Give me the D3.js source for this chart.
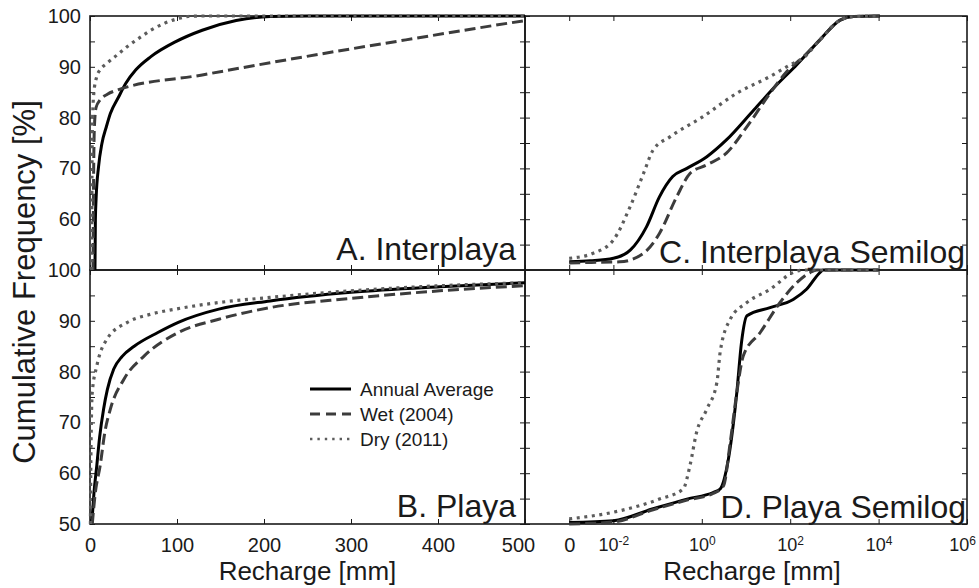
<!DOCTYPE html>
<html>
<head>
<meta charset="utf-8">
<script src="https://cdn.jsdelivr.net/npm/d3@7"></script>
<style>
  html, body { margin: 0; padding: 0; background: #fff; }
  svg { display: block; }
  text { font-family: "Liberation Sans", Arial, Helvetica, sans-serif; fill: #1a1a1a; }
</style>
</head>
<body>
<svg id="chart" width="979" height="588"></svg>
<script>
// ---- Cumulative frequency of recharge, [recharge mm, cumulative %] ----
// Interplaya, linear axis
const interplayaAnnual = [[5.7,50],[6.2,60],[7,64],[9.8,70.3],[13.7,74.9],[18.8,78.2],[23.4,80.8],[33,84.1],[41,86.7],[52.7,89.4],[70,92],[98,94.9],[129,97.2],[168,99.1],[207,99.9],[250,100],[500,100]];
const interplayaWet    = [[3.5,50],[4,65],[5,78],[7,82],[11.7,83.5],[20,84.6],[31,85.4],[129,88.4],[207,90.8],[285,93.1],[363,95.3],[441,97.5],[500,99.1]];
const interplayaDry    = [[2,50],[2.3,70],[3,80],[4.5,85],[7.8,88.1],[11.7,89.4],[19.5,90.7],[31,92.3],[43,94],[58.6,95.9],[70,97.2],[86,98.6],[101.5,99.5],[113,99.9],[130,100],[500,100]];
// Playa, linear axis
const playaAnnual = [[2,50],[4.5,56],[7.8,61.5],[11,67],[15.6,72.6],[20,76.5],[27.3,80.5],[37,83],[50.8,85],[78,87.7],[101.5,89.7],[148,92.3],[207,93.9],[300,95.6],[402,96.7],[500,97.5]];
const playaWet    = [[2.6,50],[6,56],[11.7,61.5],[17,68],[23.4,72.6],[39,78.5],[62.4,83.1],[101.5,87.7],[148,90.3],[207,92.6],[300,94.4],[402,95.9],[500,96.9]];
const playaDry    = [[0.5,50],[1,62.8],[2.6,75.9],[7.8,81.1],[19.5,86.4],[43,89.7],[70,91.3],[101.5,92.4],[148,93.6],[207,94.6],[300,95.9],[402,96.9],[500,97.5]];
// Interplaya, semilog axis (0 mm is drawn at the "0" tick)
const interplayaLogAnnual = [[0,51.6],[0.003,51.8],[0.01,52.3],[0.024,53.9],[0.056,58.5],[0.11,64.4],[0.22,68.4],[0.46,70.0],[1.3,72.3],[3.6,75.6],[15,81.5],[49,86.4],[141,90.4],[470,95.3],[1350,99.2],[2700,99.9],[10700,100]];
const interplayaLogWet    = [[0,51.4],[0.0032,51.5],[0.014,51.6],[0.048,53.3],[0.11,57.2],[0.27,64.4],[0.54,69.0],[1.3,70.7],[3.6,73.0],[10.5,78.2],[35,84.8],[83,89.0],[200,92.0],[470,95.3],[1350,99.2],[2700,99.9],[10700,100]];
const interplayaLogDry    = [[0,52.3],[0.0035,53.3],[0.01,55.9],[0.024,62.5],[0.048,69.0],[0.079,73.6],[0.19,76.2],[1.07,80.2],[6.2,84.8],[35,88.1],[100,90.4],[200,91.8],[470,95.3],[1350,99.2],[2700,99.9],[10700,100]];
// Playa, semilog axis
const playaLogAnnual = [[0,50.3],[0.01,50.65],[0.079,53.0],[0.46,54.9],[1.8,56.2],[2.6,56.9],[4.0,62.8],[6.2,75.9],[7.9,85.7],[10.5,91.0],[35,92.6],[117,94.2],[234,96.2],[470,99.5],[560,100],[10000,100]];
const playaLogWet    = [[0,50.0],[0.01,50.4],[0.079,52.8],[0.46,54.7],[1.8,56.0],[3.1,57.5],[4.4,66.1],[6.2,75.9],[8.7,83.1],[21,87.7],[59,93.6],[141,97.5],[282,99.5],[400,100],[10000,100]];
const playaLogDry    = [[0,51.0],[0.014,52.6],[0.11,54.9],[0.38,56.9],[0.54,61.5],[0.76,68.0],[1.3,72.6],[2.2,77.9],[2.6,83.8],[4.4,90.3],[10.5,93.6],[35,96.2],[117,99.5],[200,100],[10000,100]];

// ---- Axis ticks and labels ----
const yTicks          = [50,55,60,65,70,75,80,85,90,95,100];
const yLabelTicks     = [50,60,70,80,90,100];
const linearXTicks    = [0,100,200,300,400,500];
const semilogXTicks   = [0,1e-2,1e0,1e2,1e4,1e6];
const seriesNames     = ["Annual Average","Wet (2004)","Dry (2011)"];
const panelTitles     = ["A. Interplaya","B. Playa","C. Interplaya Semilog","D. Playa Semilog"];
const axisTitleX      = "Recharge [mm]";
const axisTitleY      = "Cumulative Frequency [%]";

// ---- Layout ----
const svg = d3.select("#chart");
const LEFT  = {x0: 90,  x1: 525};
const RIGHT = {x0: 525, x1: 967};
const TOP   = {y0: 16,  y1: 270};
const BOT   = {y0: 270, y1: 524};
const ZERO_AT = 1e-3;                 // log-axis position of the "0" tick
const INK = "#1a1a1a";

const styles = [
  {stroke: "#000000", width: 3,   dash: null},
  {stroke: "#3c3c3c", width: 3,   dash: "11,5"},
  {stroke: "#5c5c5c", width: 3.2, dash: "3,4.6"}
];

const frameLayer = svg.append("g");
const lineLayer  = svg.append("g");
const textLayer  = svg.append("g");

function styleAxis(g, fontSize) {
  g.select(".domain").remove();
  g.selectAll(".tick line").attr("stroke", INK).attr("stroke-width", 1);
  g.attr("font-family", null).attr("font-size", null);
  g.selectAll("text").attr("font-size", fontSize).attr("fill", INK);
}

function drawPanel(cfg) {
  const {box, row, log, series, title, titleRight, titleBase, yLabelFilter, showX} = cfg;
  const x = log
    ? d3.scaleLog().domain([1e-4, 1e6]).range([box.x0, box.x1])
    : d3.scaleLinear().domain([0, 500]).range([box.x0, box.x1]);
  const y = d3.scaleLinear().domain([50, 100]).range([row.y1, row.y0]);
  const px = v => x(log && v === 0 ? ZERO_AT : v);
  const xTickVals = log ? semilogXTicks.map(v => v === 0 ? ZERO_AT : v) : linearXTicks;

  // y ticks, both sides pointing in
  const yl = frameLayer.append("g").attr("transform", `translate(${box.x0},0)`)
    .call(d3.axisLeft(y).tickValues(yTicks).tickSizeInner(-5).tickSizeOuter(0).tickPadding(9)
      .tickFormat(v => (!log && yLabelTicks.includes(v) && yLabelFilter(v)) ? String(v) : ""));
  styleAxis(yl, 20);
  const yr = frameLayer.append("g").attr("transform", `translate(${box.x1},0)`)
    .call(d3.axisRight(y).tickValues(yTicks).tickSizeInner(-5).tickSizeOuter(0).tickFormat(""));
  styleAxis(yr, 20);

  // x ticks, top and bottom
  const xtop = frameLayer.append("g").attr("transform", `translate(0,${row.y0})`)
    .call(d3.axisTop(x).tickValues(xTickVals).tickSizeInner(-5).tickSizeOuter(0).tickFormat(""));
  styleAxis(xtop, 20);
  const xb = frameLayer.append("g").attr("transform", `translate(0,${row.y1})`)
    .call(d3.axisBottom(x).tickValues(xTickVals).tickSizeInner(-5).tickSizeOuter(0).tickPadding(14)
      .tickFormat(v => showX && !log ? String(v) : ""));
  styleAxis(xb, 20);

  if (showX && log) {
    xb.selectAll(".tick text").each(function(v) {
      const t = d3.select(this).text(null);
      if (v === ZERO_AT) { t.attr("font-size", 20).text("0"); return; }
      t.attr("font-size", 18);
      t.append("tspan").text("10");
      t.append("tspan").attr("dy", "-0.5em").attr("font-size", 12).text(String(Math.round(Math.log10(v))));
      if (v === 1e6) t.attr("dx", -5);
    });
  }
  if (showX && !log) {
    // keep "500" clear of the neighbouring "0"
    xb.selectAll(".tick text").filter(v => v === 500).attr("dx", -7);
  }

  // frame
  frameLayer.append("rect")
    .attr("x", box.x0).attr("y", row.y0)
    .attr("width", box.x1 - box.x0).attr("height", row.y1 - row.y0)
    .attr("fill", "none").attr("stroke", INK).attr("stroke-width", 1.6);

  // curves
  const line = d3.line().x(d => px(d[0])).y(d => y(d[1])).curve(d3.curveMonotoneX);
  series.forEach((s, i) => {
    lineLayer.append("path")
      .attr("d", line(s))
      .attr("fill", "none")
      .attr("stroke", styles[i].stroke)
      .attr("stroke-width", styles[i].width)
      .attr("stroke-dasharray", styles[i].dash)
      .attr("stroke-linejoin", "round");
  });

  // panel title
  textLayer.append("text")
    .attr("x", titleRight).attr("y", titleBase)
    .attr("text-anchor", "end").attr("font-size", 32)
    .text(title);
}

drawPanel({box: LEFT, row: TOP, log: false,
  series: [interplayaAnnual, interplayaWet, interplayaDry],
  title: panelTitles[0], titleRight: 516, titleBase: 260,
  yLabelFilter: v => v !== 50, showX: false});
drawPanel({box: LEFT, row: BOT, log: false,
  series: [playaAnnual, playaWet, playaDry],
  title: panelTitles[1], titleRight: 516, titleBase: 517,
  yLabelFilter: () => true, showX: true});
drawPanel({box: RIGHT, row: TOP, log: true,
  series: [interplayaLogAnnual, interplayaLogWet, interplayaLogDry],
  title: panelTitles[2], titleRight: 965, titleBase: 263,
  yLabelFilter: () => false, showX: false});
drawPanel({box: RIGHT, row: BOT, log: true,
  series: [playaLogAnnual, playaLogWet, playaLogDry],
  title: panelTitles[3], titleRight: 966, titleBase: 518,
  yLabelFilter: () => false, showX: true});

// legend inside panel B
const legendRows = [389, 414, 439];
seriesNames.forEach((name, i) => {
  const yy = legendRows[i];
  textLayer.append("line")
    .attr("x1", 310).attr("x2", 351).attr("y1", yy).attr("y2", yy)
    .attr("stroke", styles[i].stroke)
    .attr("stroke-width", i === 2 ? 2.4 : 3)
    .attr("stroke-dasharray", i === 1 ? "10,6" : (i === 2 ? "2.4,5" : null));
  textLayer.append("text")
    .attr("x", 360).attr("y", yy + 6.5)
    .attr("font-size", 19)
    .text(name);
});

// axis titles
textLayer.append("text")
  .attr("x", (LEFT.x0 + LEFT.x1) / 2).attr("y", 580)
  .attr("text-anchor", "middle").attr("font-size", 26).text(axisTitleX);
textLayer.append("text")
  .attr("x", 752).attr("y", 580)
  .attr("text-anchor", "middle").attr("font-size", 26).text(axisTitleX);
textLayer.append("text")
  .attr("transform", "translate(35,282) rotate(-90)")
  .attr("text-anchor", "middle").attr("font-size", 31).text(axisTitleY);
</script>
</body>
</html>
